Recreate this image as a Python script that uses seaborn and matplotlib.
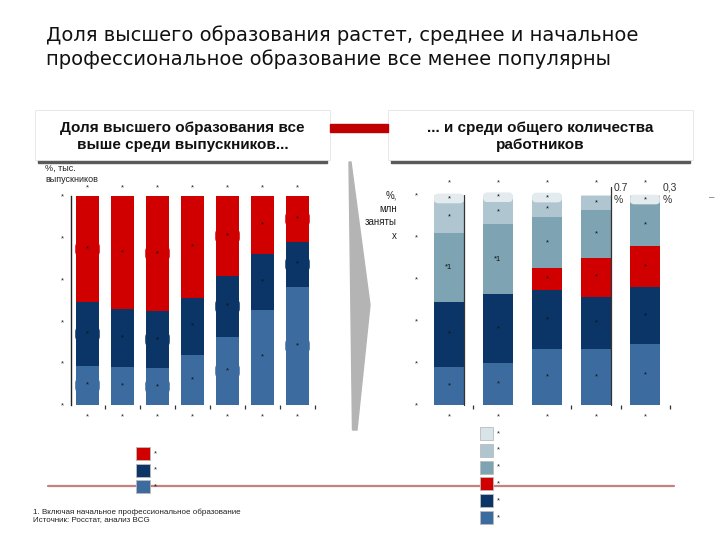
import matplotlib
matplotlib.use("Agg")
import matplotlib.pyplot as plt
import matplotlib.patches as mpatches
from matplotlib.lines import Line2D
import seaborn as sns
import pandas as pd

# ---------------- data ----------------
title_text = "Доля высшего образования растет, среднее и начальное\nпрофессиональное образование все менее популярны"
header_left = "Доля высшего образования все\nвыше среди выпускников..."
header_right = "... и среди общего количества\nработников"
left_unit = "%, тыс.\nвыпускников"
right_unit = "%,\nмлн\nзаняты\nх"
footnote = "1. Включая начальное профессиональное образование\nИсточник: Росстат, анализ BCG"

# left chart: graduates (shares, %)
grad_cats = ["g1", "g2", "g3", "g4", "g5", "g6", "g7"]
grad_xlabels = ["*"] * 7
grad_top = ["*"] * 7
grad_blue = [18.8, 18.3, 17.7, 24.1, 32.7, 45.6, 56.6]
grad_navy = [30.3, 27.5, 27.3, 27.1, 29.0, 26.5, 21.4]
grad_red = [50.9, 54.2, 55.0, 48.8, 38.3, 27.9, 22.0]
grad_boxed = [True, False, True, False, True, False, True]
grad_legend = ["*", "*", "*"]

# right chart: workforce (shares, %)
work_cats = ["w1", "w2", "w3", "w4", "w5"]
work_xlabels = ["*"] * 5
work_top = ["*"] * 5
work_blue = [18.2, 20.1, 26.7, 26.7, 29.0]
work_navy = [31.0, 32.7, 28.1, 24.9, 27.0]
work_red = [0.0, 0.0, 10.6, 18.6, 19.5]
work_gray = [32.9, 33.3, 24.0, 22.7, 20.5]
work_light = [14.6, 11.8, 8.2, 6.4, 3.7]
work_vlight = [3.3, 2.1, 2.4, 0.7, 0.3]
work_gray_labels = ["*1", "*1", "*", "*", "*"]
work_vlight_ext = ["", "", "", "0.7\n%", "0,3\n%"]
work_legend = ["*"] * 6

ytick_vals = [0, 20, 40, 60, 80, 100]
ytick_labels = ["*"] * 6

# ---------------- style ----------------
C_RED = "#d00000"
C_NAVY = "#0b3566"
C_BLUE = "#3b6b9f"
C_GRAY = "#7ea3b3"
C_LIGHT = "#afc6d1"
C_VLIGHT = "#d9e4e9"

sns.set_theme(style="white")
plt.rcParams["font.family"] = ["Liberation Sans", "DejaVu Sans"]

W, H = 720, 540
fig = plt.figure(figsize=(7.2, 5.4), dpi=100)
fig.patch.set_facecolor("white")


def fx(x):
    return x / W


def fy(y):
    return 1 - y / H


# ---------------- title ----------------
fig.text(fx(46), fy(47), title_text, fontsize=14, family=["DejaVu Sans"],
         color="#111111", ha="left", va="center", linespacing=1.27)

# ---------------- header boxes ----------------
for (x0, x1, txt) in [(35, 330, header_left), (388, 693, header_right)]:
    fig.add_artist(mpatches.Rectangle((fx(x0 + 3), fy(163)), fx(x1 - x0 - 6), (4) / H,
                                      transform=fig.transFigure, color="#5a5a5a", zorder=1))
    fig.add_artist(mpatches.Rectangle((fx(x0), fy(160)), fx(x1 - x0), 50 / H,
                                      transform=fig.transFigure, facecolor="white",
                                      edgecolor="#e4e4e4", lw=0.6, zorder=2))
    fig.text(fx((x0 + x1) / 2), fy(136.5), txt, ha="center", va="center", fontsize=11,
             fontweight="bold", color="#111111", linespacing=1.35, zorder=3)
fig.add_artist(mpatches.Rectangle((fx(330), fy(132)), fx(58), 8 / H,
                                  transform=fig.transFigure, color="#c00000", zorder=2))

# ---------------- chevron ----------------
chev = [(349, 162), (351, 162), (370, 305), (357, 430), (352.5, 430)]
fig.add_artist(mpatches.Polygon([(fx(a), fy(b)) for a, b in chev], closed=True,
                                transform=fig.transFigure, color="#b4b4b4", zorder=1))

# ---------------- red divider line ----------------
fig.add_artist(Line2D([fx(48), fx(674)], [fy(485.7), fy(485.7)], transform=fig.transFigure,
                      color="#c58080", lw=1.6, zorder=1))


def stacked(ax, cats, layers, colors, width):
    cum = []
    run = [0.0] * len(cats)
    for layer in layers:
        run = [r + v for r, v in zip(run, layer)]
        cum.append(list(run))
    for vals, col in reversed(list(zip(cum, colors))):
        df = pd.DataFrame({"cat": cats, "val": vals})
        sns.barplot(data=df, x="cat", y="val", order=cats, color=col, saturation=1,
                    width=width, errorbar=None, linewidth=0, ax=ax, zorder=2)
    return cum


def style_axes(ax, nbars, xlabels, minor_x, pad_y):
    ax.set_ylim(0, 100)
    ax.set_yticks(ytick_vals)
    ax.set_yticklabels(ytick_labels, fontsize=5.5, color="#222222")
    ax.set_yticks([40, 60], minor=True)
    ax.set_xticks(range(nbars))
    ax.set_xticklabels(xlabels, fontsize=5.5, color="#222222")
    ax.set_xticks(minor_x, minor=True)
    ax.tick_params(axis="y", which="major", length=0, pad=pad_y)
    ax.tick_params(axis="y", which="minor", length=3, width=0.8, color="#333333", left=True)
    ax.tick_params(axis="x", which="major", length=0, pad=6)
    ax.tick_params(axis="x", which="minor", length=3, width=0.9, color="#333333", bottom=True)
    ax.set_xlabel("")
    ax.set_ylabel("")
    for s in ["top", "right", "bottom"]:
        ax.spines[s].set_visible(False)
    ax.set_facecolor("none")


# ---------------- left chart ----------------
axL = fig.add_axes([fx(70.7), fy(405), fx(315 - 70.7), 209 / H])
wL = 0.66
layersL = [grad_blue, grad_navy, grad_red]
colsL = [C_BLUE, C_NAVY, C_RED]
cumL = stacked(axL, grad_cats, layersL, colsL, wL)
axL.set_xlim(-0.48, 6.5)
style_axes(axL, 7, grad_xlabels, [i + 0.5 for i in range(7)], 5)
axL.spines["left"].set_color("#222222")
axL.spines["left"].set_linewidth(1.0)

mL = (100 / 209) / (1 / 35)
for i in range(7):
    lo = 0.0
    for layer, col in zip(layersL, colsL):
        mid = lo + layer[i] / 2
        if grad_boxed[i]:
            bw, bh = 0.70, 6.5
            axL.add_patch(mpatches.FancyBboxPatch((i - bw / 2, mid - bh / 2), bw, bh,
                                                  boxstyle="round,pad=0,rounding_size=0.12",
                                                  mutation_aspect=mL, facecolor=col,
                                                  edgecolor="none", zorder=3, clip_on=False))
        axL.text(i, mid, "*", ha="center", va="center", fontsize=5.5, color="#111111", zorder=4)
        lo += layer[i]
    axL.text(i, 103.8, grad_top[i], ha="center", va="center", fontsize=5.5,
             color="#222222", clip_on=False)
fig.text(fx(45), fy(164), left_unit, ha="left", va="top", fontsize=6.5, color="#222222",
         linespacing=1.3)

# ---------------- right chart ----------------
axR = fig.add_axes([fx(426), fy(405), fx(670 - 426), 210 / H])
wR = 0.62
layersR = [work_blue, work_navy, work_red, work_gray, work_light, work_vlight]
colsR = [C_BLUE, C_NAVY, C_RED, C_GRAY, C_LIGHT, C_VLIGHT]
cumR = stacked(axR, work_cats, layersR, colsR, wR)
axR.set_xlim(-0.469, 4.51)
style_axes(axR, 5, work_xlabels, [0.5, 2.5, 3.5, 4.5], 6)
axR.spines["left"].set_visible(False)

mR = (100 / 210) / (1 / 49)
for i in range(5):
    if i in (0, 3):
        top = 100 if i == 0 else 104
        axR.plot([i + wR / 2, i + wR / 2], [0, top], color="#333333", lw=0.9, zorder=3,
                 clip_on=False)
    lo = 0.0
    seg_mid = []
    for layer in layersR:
        seg_mid.append(lo + layer[i] / 2)
        lo += layer[i]
    labels = ["*", "*", "*" if work_red[i] > 0 else "", work_gray_labels[i], "*",
              "*" if work_vlight[i] >= 1 else ""]
    if work_vlight[i] >= 1:
        box_mid = seg_mid[5]
    elif work_light[i] < 5:
        box_mid = seg_mid[4]
    else:
        box_mid = None
    if box_mid is not None:
        bw, bh = 0.60, 4.6
        axR.add_patch(mpatches.FancyBboxPatch((i - bw / 2, box_mid - bh / 2), bw, bh,
                                              boxstyle="round,pad=0,rounding_size=0.08",
                                              mutation_aspect=mR, facecolor="#e3ebef",
                                              edgecolor="none", zorder=3, clip_on=False))
    for k, (mid, lab) in enumerate(zip(seg_mid, labels)):
        if lab:
            axR.text(i, mid, lab, ha="center", va="center", fontsize=5.5, color="#111111",
                     zorder=4, clip_on=False)
    if work_vlight_ext[i]:
        axR.text(i + wR / 2 + 0.04, 100.5, work_vlight_ext[i], ha="left", va="center",
                 fontsize=7.5, color="#333333", linespacing=1.3, clip_on=False)
    axR.text(i, 105.7, work_top[i], ha="center", va="center", fontsize=5.5,
             color="#222222", clip_on=False)

fig.text(fx(397), fy(190), right_unit, ha="right", va="top", fontsize=7,
         color="#222222", linespacing=1.45)
fig.text(fx(712), fy(197), "–", ha="center", va="center", fontsize=7, color="#777777")


# ---------------- legends (manual swatches) ----------------
def legend_column(x0, y0, pitch, size_w, size_h, colors, labels):
    for k, (c, lab) in enumerate(zip(colors, labels)):
        top = y0 + k * pitch
        fig.add_artist(mpatches.Rectangle((fx(x0), fy(top + size_h)), fx(size_w), size_h / H,
                                          transform=fig.transFigure, facecolor=c,
                                          edgecolor="#bbbbbb", lw=0.6, zorder=5))
        fig.text(fx(x0 + size_w + 4), fy(top + size_h / 2), lab, ha="left", va="center",
                 fontsize=5.5, color="#222222", zorder=5)


legend_column(136, 447, 16.5, 14, 13, [C_RED, C_NAVY, C_BLUE], grad_legend)
legend_column(480, 427, 16.8, 13, 13, [C_VLIGHT, C_LIGHT, C_GRAY, C_RED, C_NAVY, C_BLUE],
              work_legend)

# ---------------- footnote ----------------
fig.text(fx(33), fy(516), footnote, ha="left", va="center", fontsize=5.8,
         color="#222222", linespacing=1.05)

fig.savefig("out.png", dpi=100)
